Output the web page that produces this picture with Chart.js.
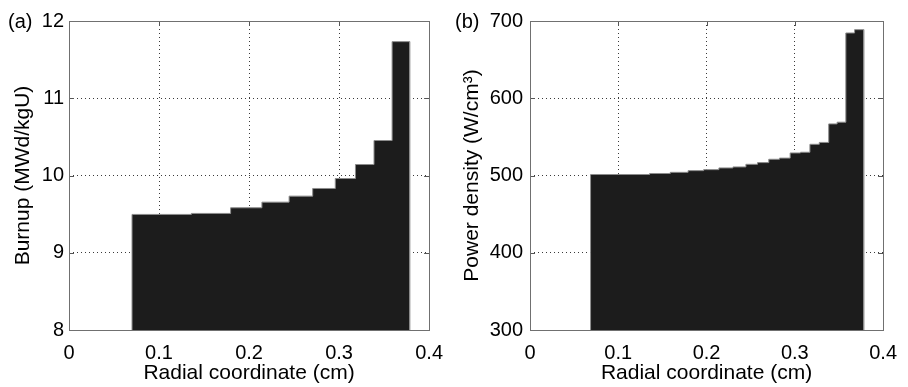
<!DOCTYPE html>
<html>
<head>
<meta charset="utf-8">
<script src="https://cdn.jsdelivr.net/npm/chart.js@4"></script>
<style>
  html, body { margin: 0; padding: 0; background: #fff; }
  #wrap { position: relative; width: 908px; height: 387px; overflow: hidden; }
  .pane { position: absolute; top: 0; width: 454px; height: 387px; }
  #pa { left: 0; }
  #pb { left: 454px; }
</style>
</head>
<body>
<div id="wrap">
  <div class="pane" id="pa"><canvas id="ca" width="454" height="387"></canvas></div>
  <div class="pane" id="pb"><canvas id="cb" width="454" height="387"></canvas></div>
</div>
<script>
// ---- data ----
const burnupEdges = [0.070, 0.1359, 0.1795, 0.2143, 0.2445, 0.2707, 0.2958, 0.3182, 0.3388, 0.3589, 0.3784];
const burnupValues = [9.496, 9.509, 9.582, 9.655, 9.733, 9.832, 9.961, 10.142, 10.453, 11.733];

const powerEdges = [0.0686, 0.1355, 0.1589, 0.1791, 0.1967, 0.2140, 0.2299, 0.2446, 0.2578, 0.2705, 0.2826, 0.2947, 0.3064, 0.3171, 0.3277, 0.3384, 0.3479, 0.3578, 0.3677, 0.3780];
const powerValues = [501.3, 502.6, 504.1, 506.3, 507.6, 509.8, 511.1, 514.5, 516.7, 521.0, 522.5, 529.2, 530.1, 540.4, 542.8, 566.8, 569.0, 684.5, 688.8];

const xTicks = [0, 0.1, 0.2, 0.3, 0.4];
const xTickLabels = ['0', '0.1', '0.2', '0.3', '0.4'];
const burnupTicks = [8, 9, 10, 11, 12];
const burnupTickLabels = ['8', '9', '10', '11', '12'];
const powerTicks = [300, 400, 500, 600, 700];
const powerTickLabels = ['300', '400', '500', '600', '700'];

const xTitle = 'Radial coordinate (cm)';
const burnupTitle = 'Burnup (MWd/kgU)';
const powerTitle = 'Power density (W/cm\u00B3)';

// ---- helpers ----
const FONT = '"Liberation Sans", Arial, Helvetica, sans-serif';

// outline of the stepped bars: base at left edge, each bin's value at its left edge,
// last value held to the right edge, then back to base
function stepPoints(edges, values, base) {
  const pts = [{x: edges[0], y: base}];
  for (let i = 0; i < values.length; i++) {
    pts.push({x: edges[i], y: values[i]});
    pts.push({x: edges[i + 1], y: values[i]});
  }
  pts.push({x: edges[edges.length - 1], y: base});
  return pts;
}

const framePlugin = {
  id: 'frame',
  beforeDatasetsDraw(chart) {
    const {ctx, chartArea: a, scales} = chart;
    ctx.save();
    ctx.strokeStyle = '#555';
    ctx.lineWidth = 1;
    const L = 5;
    scales.x.ticks.forEach((t, i, arr) => {
      if (i === 0 || i === arr.length - 1) return;
      const px = Math.round(scales.x.getPixelForValue(t.value)) + 0.5;
      ctx.beginPath();
      ctx.moveTo(px, a.bottom); ctx.lineTo(px, a.bottom - L);
      ctx.moveTo(px, a.top); ctx.lineTo(px, a.top + L);
      ctx.stroke();
    });
    scales.y.ticks.forEach((t, i, arr) => {
      if (i === 0 || i === arr.length - 1) return;
      const py = Math.round(scales.y.getPixelForValue(t.value)) + 0.5;
      ctx.beginPath();
      ctx.moveTo(a.left, py); ctx.lineTo(a.left + L, py);
      ctx.moveTo(a.right, py); ctx.lineTo(a.right - L, py);
      ctx.stroke();
    });
    ctx.restore();
  },
  afterDatasetsDraw(chart, args, opts) {
    const {ctx, chartArea: a} = chart;
    ctx.save();
    ctx.strokeStyle = '#707070';
    ctx.lineWidth = 1;
    ctx.strokeRect(Math.round(a.left) + 0.5, Math.round(a.top) + 0.5,
                   Math.round(a.right - a.left), Math.round(a.bottom - a.top));
    ctx.fillStyle = '#000';
    ctx.font = '20px ' + FONT;
    ctx.textAlign = 'left';
    ctx.textBaseline = 'middle';
    ctx.fillText(opts.label, opts.labelX, a.top + 1);
    ctx.restore();
  }
};

function makeChart(canvasId, edges, values, yTicks, yTickLabels, yTitle, cfg) {
  const yMin = yTicks[0], yMax = yTicks[yTicks.length - 1];
  const xMin = xTicks[0], xMax = xTicks[xTicks.length - 1];
  const gridColor = (c) => {
    const n = c.scale.ticks.length;
    return (c.index === 0 || c.index === n - 1) ? 'rgba(0,0,0,0)' : '#3a3a3a';
  };
  return new Chart(document.getElementById(canvasId), {
    type: 'line',
    data: {
      datasets: [{
        data: stepPoints(edges, values, yMin),
        stepped: false,
        fill: 'start',
        backgroundColor: '#1c1c1c',
        borderColor: '#8c8c8c',
        borderWidth: 1,
        pointRadius: 0,
        tension: 0
      }]
    },
    plugins: [framePlugin],
    options: {
      responsive: false,
      animation: false,
      events: [],
      layout: { padding: { top: 21, right: cfg.padRight, left: 0, bottom: 0 } },
      plugins: {
        legend: { display: false },
        tooltip: { enabled: false },
        frame: { label: cfg.label, labelX: cfg.labelX }
      },
      scales: {
        x: {
          type: 'linear',
          min: xMin, max: xMax,
          afterBuildTicks: (s) => { s.ticks = xTicks.map(v => ({value: v})); },
          afterFit: (s) => { s.height = 57; },
          grid: { color: gridColor, lineWidth: 1, drawTicks: false },
          border: { display: false, dash: [1, 3] },
          ticks: {
            padding: 11,
            color: '#000',
            font: { family: FONT, size: 20 },
            maxRotation: 0,
            callback: (v) => xTickLabels[xTicks.indexOf(v)] ?? ''
          },
          title: {
            display: true, text: xTitle, color: '#000',
            font: { family: FONT, size: 21 },
            padding: { top: 0, bottom: 1 }
          }
        },
        y: {
          type: 'linear',
          min: yMin, max: yMax,
          afterBuildTicks: (s) => { s.ticks = yTicks.map(v => ({value: v})); },
          afterFit: (s) => { s.width = cfg.yWidth; },
          grid: { color: gridColor, lineWidth: 1, drawTicks: false },
          border: { display: false, dash: [1, 3] },
          ticks: {
            padding: cfg.tickPad,
            color: '#000',
            font: { family: FONT, size: 20 },
            callback: (v) => yTickLabels[yTicks.indexOf(v)] ?? ''
          },
          title: {
            display: true, text: yTitle, color: '#000',
            font: { family: FONT, size: 21 },
            padding: { top: cfg.titlePad, bottom: 0 }
          }
        }
      }
    }
  });
}

makeChart('ca', burnupEdges, burnupValues, burnupTicks, burnupTickLabels, burnupTitle,
  { padRight: 21, yWidth: 69, tickPad: 5, titlePad: 11, label: '(a)', labelX: 8 });
makeChart('cb', powerEdges, powerValues, powerTicks, powerTickLabels, powerTitle,
  { padRight: 15, yWidth: 76, tickPad: 7, titlePad: 6, label: '(b)', labelX: 1 });
</script>
</body>
</html>
